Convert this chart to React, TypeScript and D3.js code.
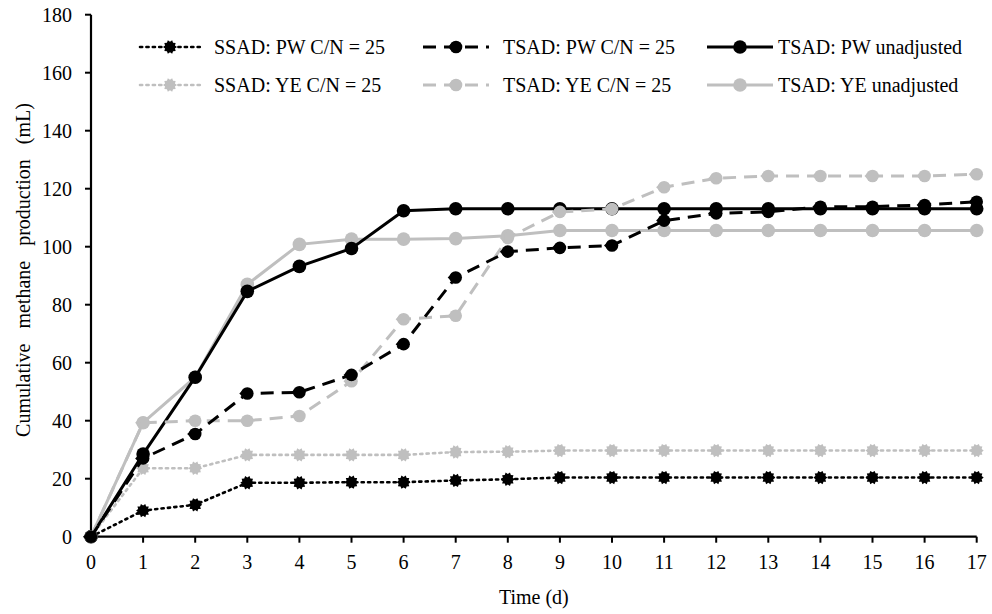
import React from "react";
import * as d3 from "d3";

const days = [0, 1, 2, 3, 4, 5, 6, 7, 8, 9, 10, 11, 12, 13, 14, 15, 16, 17];
const ssadPW = [0, 9, 11, 18.6, 18.6, 18.8, 18.8, 19.4, 19.8, 20.4, 20.4, 20.4, 20.4, 20.4, 20.4, 20.4, 20.4, 20.4];
const tsadPW = [0, 27, 35.4, 49.4, 49.8, 55.8, 66.4, 89.4, 98.3, 99.6, 100.4, 109, 111.5, 112, 113.8, 113.8, 114.4, 115.5];
const tsadPWu = [0, 28.5, 55, 84.6, 93.2, 99.4, 112.4, 113.1, 113.1, 113.1, 113.1, 113.1, 113.1, 113.1, 113.1, 113.1, 113.1, 113.1];
const ssadYE = [0, 23.6, 23.6, 28.2, 28.2, 28.2, 28.2, 29.2, 29.3, 29.7, 29.7, 29.7, 29.7, 29.7, 29.7, 29.7, 29.7, 29.7];
const tsadYE = [0, 39.3, 40, 40, 41.6, 53.6, 75, 76.2, 103, 112, 113, 120.5, 123.6, 124.4, 124.4, 124.4, 124.4, 125];
const tsadYEu = [0, 39.3, 55, 87, 100.8, 102.6, 102.6, 102.8, 103.8, 105.6, 105.6, 105.6, 105.6, 105.6, 105.6, 105.6, 105.6, 105.6];
const yTicks = [0, 20, 40, 60, 80, 100, 120, 140, 160, 180];

type Series = { name: string; values: number[]; color: string; dash: string; width: number; marker: "star" | "circle" | "dot" };

const BLACK = "#000000";
const GRAY = "#bfbfbf";

const series: Series[] = [
  { name: "SSAD: PW C/N = 25", values: ssadPW, color: BLACK, dash: "2.2,4.2", width: 2.6, marker: "star" },
  { name: "TSAD: PW C/N = 25", values: tsadPW, color: BLACK, dash: "13,8", width: 3, marker: "circle" },
  { name: "TSAD: PW unadjusted", values: tsadPWu, color: BLACK, dash: "", width: 3, marker: "dot" },
  { name: "SSAD: YE C/N = 25", values: ssadYE, color: GRAY, dash: "2.2,4.2", width: 2.6, marker: "star" },
  { name: "TSAD: YE C/N = 25", values: tsadYE, color: GRAY, dash: "13,8", width: 3, marker: "circle" },
  { name: "TSAD: YE unadjusted", values: tsadYEu, color: GRAY, dash: "", width: 3, marker: "dot" },
];

const W = 992;
const H = 614;
const M = { left: 91, right: 15.3, top: 14.7, bottom: 77.3 };
const FONT = "'Liberation Serif', 'Times New Roman', serif";

function starPath(r1: number, r2: number, n: number) {
  const pts: [number, number][] = [];
  for (let i = 0; i < n * 2; i++) {
    const r = i % 2 === 0 ? r1 : r2;
    const a = (Math.PI * i) / n;
    pts.push([r * Math.cos(a), r * Math.sin(a)]);
  }
  return d3.line().curve(d3.curveLinearClosed)(pts) as string;
}

function Marker({ s, x, y }: { s: Series; x: number; y: number }) {
  if (s.marker === "star") {
    return <path d={starPath(7, 5.2, 10)} transform={`translate(${x},${y})`} fill={s.color} />;
  }
  if (s.marker === "circle") {
    return (
      <g transform={`translate(${x},${y})`}>
        <circle r={6.3} fill={s.color} />
        <path d="M-8,0 L-3,-5 L-3,5 Z" fill={s.color} />
      </g>
    );
  }
  return <circle cx={x} cy={y} r={6.8} fill={s.color} />;
}

export default function App() {
  const x = d3.scaleLinear().domain([0, 17]).range([M.left, W - M.right]);
  const y = d3.scaleLinear().domain([0, 180]).range([H - M.bottom, M.top]);
  const line = d3
    .line<number>()
    .x((_, i) => x(days[i]))
    .y((v) => y(v));

  const legendCols = [140, 423, 707];
  const legendRows = [47, 85];
  const drawOrder = [3, 0, 5, 2, 4, 1];

  return (
    <svg width={W} height={H} style={{ position: "absolute", left: 0, top: 0, background: "#fff" }} fontFamily={FONT}>
      <rect width={W} height={H} fill="#fff" />
      {/* axes */}
      <line x1={x(0)} x2={x(0)} y1={y(180)} y2={y(0)} stroke="#000" strokeWidth={2.2} />
      <line x1={x(0)} x2={x(17)} y1={y(0)} y2={y(0)} stroke="#000" strokeWidth={2.2} />
      {yTicks.map((t) => (
        <g key={t}>
          <line x1={x(0) - 6} x2={x(0)} y1={y(t)} y2={y(t)} stroke="#000" strokeWidth={2} />
          <text x={x(0) - 19} y={y(t)} dy="0.35em" textAnchor="end" fontSize={20}>
            {t}
          </text>
        </g>
      ))}
      {days.map((d) => (
        <g key={d}>
          <line x1={x(d)} x2={x(d)} y1={y(0)} y2={y(0) + 6} stroke="#000" strokeWidth={2} />
          <text x={x(d)} y={y(0) + 32} textAnchor="middle" fontSize={20}>
            {d}
          </text>
        </g>
      ))}
      <text x={x(8.5)} y={604} textAnchor="middle" fontSize={20}>
        Time (d)
      </text>
      <text
        transform={`translate(30,270) rotate(-90)`}
        textAnchor="middle"
        fontSize={20}
        wordSpacing={10}
      >
        Cumulative methane production (mL)
      </text>

      {/* series */}
      {drawOrder.map((i) => {
        const s = series[i];
        return (
          <g key={s.name}>
            <path
              d={line(s.values) as string}
              fill="none"
              stroke={s.color}
              strokeWidth={s.width}
              strokeDasharray={s.dash || undefined}
              strokeLinecap={s.marker === "star" ? "round" : "butt"}
            />
            {s.values.map((v, j) => (
              <Marker key={j} s={s} x={x(days[j])} y={y(v)} />
            ))}
          </g>
        );
      })}

      {/* legend */}
      {series.map((s, i) => {
        const col = i % 3;
        const row = Math.floor(i / 3);
        const lx = legendCols[col];
        const ly = legendRows[row];
        const len = col === 0 ? 60 : 66;
        return (
          <g key={"lg" + s.name}>
            <line
              x1={lx}
              x2={lx + len}
              y1={ly}
              y2={ly}
              stroke={s.color}
              strokeWidth={s.width}
              strokeDasharray={s.dash || undefined}
              strokeLinecap={s.marker === "star" ? "round" : "butt"}
            />
            <Marker s={s} x={lx + len / 2} y={ly} />
            <text x={lx + len + (col === 2 ? 5 : 14)} y={ly} dy="0.35em" fontSize={20}>
              {s.name}
            </text>
          </g>
        );
      })}
    </svg>
  );
}
